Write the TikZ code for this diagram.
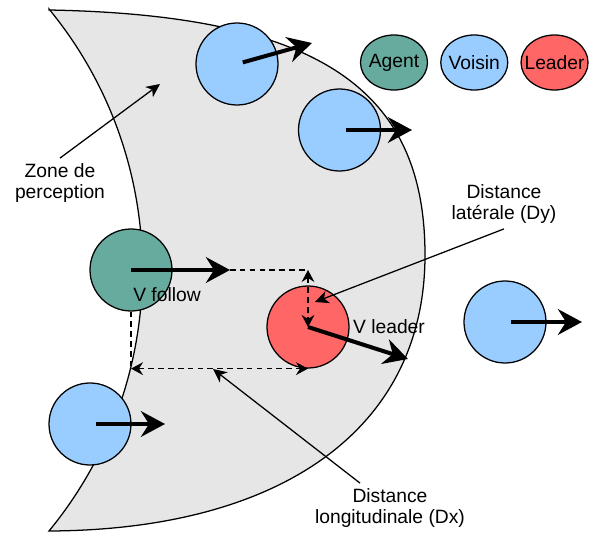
\documentclass[tikz,border=0pt]{standalone}
\usepackage{fontspec}
\setmainfont{Liberation Sans}
\usetikzlibrary{arrows.meta,positioning,shapes.geometric}

\definecolor{agentvert}{HTML}{67AB9F}
\definecolor{voisinbleu}{HTML}{99CCFF}
\definecolor{leaderrouge}{HTML}{FF6666}
\definecolor{zonegris}{HTML}{E6E6E6}

\begin{document}
\begin{tikzpicture}[font=\fontsize{13.7}{15.6}\selectfont,
	disc/.style={circle,draw,line width=0.9pt,minimum size=2.05cm,inner sep=0pt},
	legende/.style={ellipse,draw,line width=0.9pt,minimum width=1.675cm,minimum height=1.375cm,inner sep=0pt},
	vit/.style={line width=2.85pt,-{Stealth[length=6mm,width=6.4mm,inset=2mm]}},
	tiret/.style={line width=0.9pt,dash pattern=on 4pt off 3pt},
	dist/.style={tiret,{Stealth[length=3mm,width=3.2mm,inset=1mm]}-{Stealth[length=3mm,width=3.2mm,inset=1mm]}},
	fleche/.style={line width=0.9pt,-{Stealth[length=3.4mm,width=3.2mm,inset=1mm]}}]
	%\draw [help lines, lightgray] (0,0) grid (15,14);
	\useasboundingbox (0,0) rectangle (14.825,13.35);

	%% zone de perception
	\draw[line width=0.9pt,fill=zonegris] (1.225,13.1) .. controls (8,12.975) and (10.625,11.1) .. (10.625,6.975)
		.. controls (10.625,2.6) and (7,0.1) .. (1.225,0.075)
		arc[start angle=-39.4,end angle=39.4,radius=10.28] -- cycle;

	\node[disc,fill=agentvert] (agent) at (3.275,6.6) {};
	\node[disc,fill=leaderrouge] (leader) at (7.7,5.175) {};
	\node[disc,fill=voisinbleu] (v1) at (5.925,11.75) {};
	\node[disc,fill=voisinbleu] (v2) at (8.4875,10.1) {};
	\node[disc,fill=voisinbleu] (v3) at (12.625,5.3) {};
	\node[disc,fill=voisinbleu] (v4) at (2.25,2.75) {};

	\coordinate (af) at (5.75,6.6);
	\coordinate (lf) at (10.2,4.375);
	\coordinate (t1) at (7.8,12.275);
	\coordinate (t2) at (10.3,10.1);
	\coordinate (t3) at (14.55,5.3);
	\coordinate (t4) at (4.125,2.75);

	%% distances
	\draw[tiret] (af) -- (leader.center |- af);
	\draw[dist] (leader.center |- af) -- (leader.center);
	\draw[tiret] (agent.south) -- (agent.south |- leader.south);
	\draw[dist] (agent.south |- leader.south) -- (leader.south);

	%% vitesses
	\draw[vit] (agent.center) -- (af);
	\draw[vit] (leader.center) -- (lf);
	\draw[vit,shorten <=1.5mm] (v1.center) -- (t1);
	\draw[vit,shorten <=1.5mm] (v2.center) -- (t2);
	\draw[vit,shorten <=1.5mm] (v3.center) -- (t3);
	\draw[vit,shorten <=1.5mm] (v4.center) -- (t4);

	\node[right,inner sep=0pt] (vfollow) at (3.325,5.975) {V follow};
	\node (vleader) at (9.725,5.175) {V leader};

	%% legendes
	\node[align=center] (zone) at (1.5,8.775) {Zone de\\perception};
	\coordinate (zf) at (4.0,11.25);
	\draw[fleche] (zone.north) -- (zf);

	\node[align=center] (lat) at (12.6,8.25) {Distance\\latérale (Dy)};
	\coordinate (latf) at (7.875,5.8);
	\draw[fleche] (lat.south) -- (latf);

	\node[align=center] (longi) at (9.75,0.65) {Distance\\longitudinale (Dx)};
	\coordinate (longif) at (5.325,4.125);
	\draw[fleche] ([xshift=-7.5mm]longi.north) -- (longif);

	\node[legende,fill=agentvert] (lagent) at (9.85,11.7875) {\makebox[0pt]{Agent}};
	\node[legende,fill=voisinbleu,right=0.3cm of lagent] (lvoisin) {\makebox[0pt]{Voisin}};
	\node[legende,fill=leaderrouge,right=0.3cm of lvoisin] (lleader) {\makebox[0pt]{Leader}};

\end{tikzpicture}
\end{document}
